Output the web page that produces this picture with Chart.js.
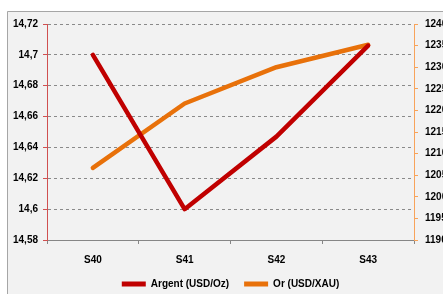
<!DOCTYPE html>
<html>
<head>
<meta charset="utf-8">
<script src="https://cdn.jsdelivr.net/npm/chart.js@4/dist/chart.umd.min.js"></script>
<style>
  html, body { margin: 0; padding: 0; background: #fff; overflow: hidden; }
  #wrap { position: relative; width: 443px; height: 294px; }
</style>
</head>
<body>
<div id="wrap"><canvas id="chart" width="443" height="294"></canvas></div>
<script>
// data
const weeks = ['S40', 'S41', 'S42', 'S43'];
const argent = [14.70, 14.60, 14.647, 14.706];
const or = [1206.7, 1221.6, 1230.0, 1235.2];

const leftTicks = [14.58, 14.6, 14.62, 14.64, 14.66, 14.68, 14.7, 14.72];
const rightTicks = [1190, 1195, 1200, 1205, 1210, 1215, 1220, 1225, 1230, 1235, 1240];

const FONT = { family: "'Liberation Sans', Arial, sans-serif", size: 10, weight: 'bold' };

// grey panel with a thin border, like the Excel chart area
const panelBg = {
    id: 'panelBg',
    beforeDraw(chart) {
        const ctx = chart.ctx;
        ctx.save();
        ctx.fillStyle = '#ffffff';
        ctx.fillRect(0, 0, chart.width, chart.height);
        ctx.fillStyle = '#f2f2f2';
        ctx.fillRect(7, 11, chart.width - 7, chart.height - 11);
        ctx.strokeStyle = '#a6a6a6';
        ctx.lineWidth = 1;
        ctx.beginPath();
        ctx.moveTo(7.5, chart.height);
        ctx.lineTo(7.5, 11.5);
        ctx.lineTo(chart.width, 11.5);
        ctx.stroke();
        ctx.restore();
    }
};

const fmt = v => String(+v.toFixed(2)).replace('.', ',');

new Chart(document.getElementById('chart'), {
    type: 'line',
    data: {
        labels: weeks,
        datasets: [{
            label: 'Argent (USD/Oz)',
            data: argent,
            yAxisID: 'y',
            borderColor: '#c00000',
            backgroundColor: '#c00000',
            borderWidth: 4.5,
            borderCapStyle: 'round',
            borderJoinStyle: 'round',
            pointRadius: 0,
            tension: 0
        }, {
            label: 'Or (USD/XAU)',
            data: or,
            yAxisID: 'y2',
            borderColor: '#e8710a',
            backgroundColor: '#e8710a',
            borderWidth: 4.5,
            borderCapStyle: 'round',
            borderJoinStyle: 'round',
            pointRadius: 0,
            tension: 0
        }]
    },
    options: {
        responsive: false,
        animation: false,
        layout: { padding: { left: 0, top: 24, right: 0, bottom: -5 } },
        plugins: {
            tooltip: { enabled: false },
            legend: {
                position: 'bottom',
                fullSize: false,
                labels: {
                    font: FONT,
                    color: '#000',
                    boxWidth: 24,
                    boxHeight: 5,
                    padding: 15,
                    useBorderRadius: true,
                    borderRadius: 2.5,
                    generateLabels(chart) {
                        return chart.data.datasets.map((ds, i) => ({
                            text: ds.label,
                            fillStyle: ds.borderColor,
                            strokeStyle: ds.borderColor,
                            lineWidth: 0,
                            fontColor: '#000',
                            datasetIndex: i
                        }));
                    }
                }
            }
        },
        scales: {
            x: {
                offset: true,
                grid: {
                    offset: true,
                    drawOnChartArea: false,
                    tickLength: 4,
                    color: '#868686'
                },
                border: { color: '#868686', width: 1 },
                ticks: { font: FONT, color: '#000', padding: 10 },
                afterFit(s) { s.height = 24; }
            },
            y: {
                position: 'left',
                min: 14.58,
                max: 14.72,
                afterBuildTicks(s) { s.ticks = leftTicks.map(v => ({ value: v })); },
                grid: {
                    color: '#8a8a8a',
                    tickColor: '#d05050',
                    tickLength: 4
                },
                border: { color: '#d05050', width: 1, dash: [3, 3] },
                ticks: { font: FONT, color: '#000', padding: 5, callback: fmt },
                afterFit(s) { s.width = 47; }
            },
            y2: {
                position: 'right',
                min: 1190,
                max: 1240,
                afterBuildTicks(s) { s.ticks = rightTicks.map(v => ({ value: v })); },
                grid: {
                    drawOnChartArea: false,
                    tickColor: '#f8a35a',
                    tickLength: 4
                },
                border: { color: '#f8a35a', width: 1 },
                ticks: { font: FONT, color: '#000', padding: 7, callback: v => String(v) },
                afterFit(s) { s.width = 29; }
            }
        }
    },
    plugins: [panelBg]
});
</script>
</body>
</html>
